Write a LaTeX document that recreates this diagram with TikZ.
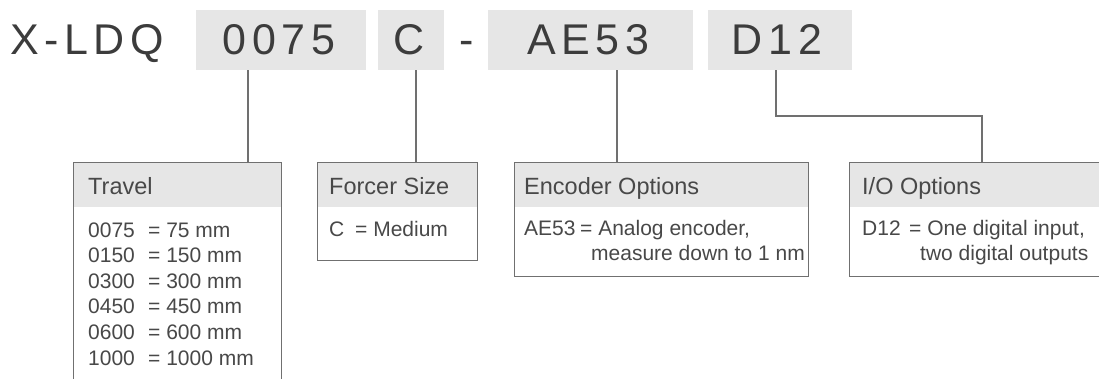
\documentclass[tikz,border=0pt]{standalone}
\usepackage{fontspec}
\setmainfont{Liberation Sans}
\definecolor{boxgray}{HTML}{E6E6E6}
\definecolor{linegray}{HTML}{707070}
\definecolor{codeink}{HTML}{3C3C3C}
\definecolor{bodyink}{HTML}{484848}
\tikzset{
  codebox/.style={fill=boxgray, draw=none, inner sep=0pt, anchor=north west},
  codetext/.style={font=\fontsize{43}{50}\selectfont\addfontfeature{LetterSpace=13}, text=codeink, anchor=base, inner sep=0pt},
  optbox/.style={draw=linegray, line width=1.3pt, fill=white, inner sep=0pt, anchor=north west,
    path picture={\fill[boxgray] (path picture bounding box.north west) rectangle ([yshift=-44pt]path picture bounding box.north east);}},
  hdrtext/.style={font=\fontsize{23.5}{28}\selectfont, text=bodyink, anchor=base west, inner sep=0pt},
  bodytext/.style={font=\fontsize{21}{25.6}\selectfont, text=bodyink, anchor=base west, inner sep=0pt},
  conn/.style={draw=linegray, line width=1.3pt}
}
\begin{document}
\begin{tikzpicture}[x=1pt,y=-1pt]
\useasboundingbox (0,0) rectangle (1099,378);
\clip (0,0) rectangle (1099,378);
% code boxes
\node[codebox, minimum width=170pt, minimum height=60pt] (b0075) at (196,10) {};
\node[codebox, minimum width=66pt, minimum height=60pt] (bC) at (378,10) {};
\node[codebox, minimum width=205pt, minimum height=60pt] (bAE) at (488,10) {};
\node[codebox, minimum width=144pt, minimum height=60pt] (bD) at (708,10) {};
% code texts
\node[codetext, anchor=base west] (tX) at (10,54) {X-LDQ};
\node[codetext] (t0075) at (279,54) {0075};
\node[codetext] (tC) at (409,54) {C};
\node[codetext] (tdash) at (467,54) {-};
\node[codetext] (tAE) at (588,54) {AE53};
\node[codetext] (tD) at (777,54) {D12};
% option boxes
\node[optbox, minimum width=208pt, minimum height=240pt] (travel) at (73,162) {};
\node[optbox, minimum width=160pt, minimum height=98pt] (forcer) at (317,162) {};
\node[optbox, minimum width=294pt, minimum height=114pt] (encoder) at (514,162) {};
\node[optbox, minimum width=270pt, minimum height=114pt] (io) at (849,162) {};
% headers
\node[hdrtext] (htravel) at (88,194) {Travel};
\node[hdrtext] (hforcer) at (329,194) {Forcer Size};
\node[hdrtext] (hencoder) at (524,194) {Encoder Options};
\node[hdrtext] (hio) at (862,194) {I/O Options};
% bodies
\node[bodytext] (btravel) at (88,237) {\begin{tabular}[t]{@{}l@{}}
\makebox[60pt][l]{0075}= 75 mm\\
\makebox[60pt][l]{0150}= 150 mm\\
\makebox[60pt][l]{0300}= 300 mm\\
\makebox[60pt][l]{0450}= 450 mm\\
\makebox[60pt][l]{0600}= 600 mm\\
\makebox[60pt][l]{1000}= 1000 mm
\end{tabular}};
\node[bodytext] (bforcer) at (329,236) {\makebox[26pt][l]{C}= Medium};
\node[bodytext] (bencoder) at (524,235) {\begin{tabular}[t]{@{}l@{}}
\makebox[56pt][l]{AE53}= Analog encoder,\\
\hspace*{67pt}measure down to 1 nm
\end{tabular}};
\node[bodytext] (bio) at (862,235) {\begin{tabular}[t]{@{}l@{}}
\makebox[47pt][l]{D12}= One digital input,\\
\hspace*{58pt}two digital outputs
\end{tabular}};
% connectors
\draw[conn] ([xshift=52pt]b0075.south west) -- ([xshift=52pt]b0075.south west |- travel.north);
\draw[conn] ([xshift=38pt]bC.south west) -- ([xshift=38pt]bC.south west |- forcer.north);
\draw[conn] ([xshift=129pt]bAE.south west) -- ([xshift=129pt]bAE.south west |- encoder.north);
\coordinate (bend) at (982,116);
\draw[conn] ([xshift=68pt]bD.south west) |- (bend) -- (bend |- io.north);
\end{tikzpicture}
\end{document}
